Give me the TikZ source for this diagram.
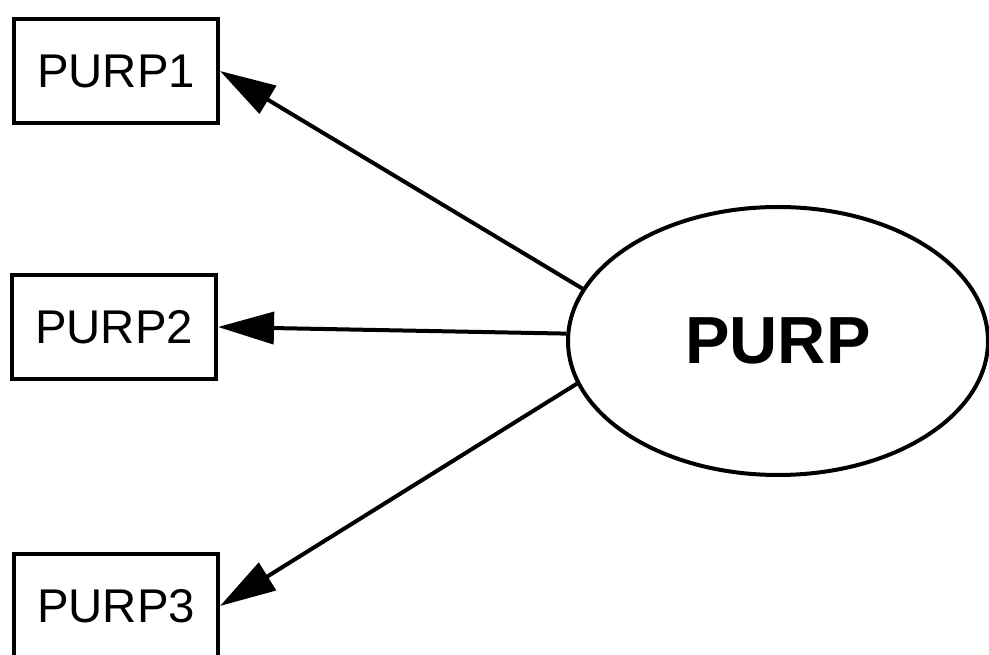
\documentclass[tikz,border=0pt]{standalone}
\usepackage{fontspec}
\setmainfont{Liberation Sans}
\usetikzlibrary{arrows.meta,shapes.geometric}

\begin{document}
\begin{tikzpicture}[x=0.75pt, y=-0.75pt,
    itembox/.style={draw, line width=3pt, minimum width=153pt, minimum height=78pt,
      inner sep=0pt, font=\fontsize{35.5}{38}\selectfont},
    factor/.style={draw, ellipse, line width=3pt, minimum width=315pt, minimum height=201pt,
      inner sep=0pt, font=\fontsize{50}{54}\selectfont\bfseries},
    load/.style={line width=3pt, -{Triangle[length=42pt, width=24pt]}}]
  % Fix the page to the size of the picture
  \useasboundingbox (0,0) rectangle (989,655);

  % Indicator boxes
  \node[itembox] (purp1) at (116,71) {PURP1};
  \node[itembox] (purp2) at (114,327) {PURP2};
  \node[itembox] (purp3) at (116,606) {PURP3};

  % Latent factor
  \node[factor] (purp) at (778,341) {PURP};

  % Loadings
  \draw[load] (purp.165) -- (purp1.east);
  \draw[load] (purp.178) -- (purp2.east);
  \draw[load] (purp.192) -- (purp3.east);
\end{tikzpicture}
\end{document}
